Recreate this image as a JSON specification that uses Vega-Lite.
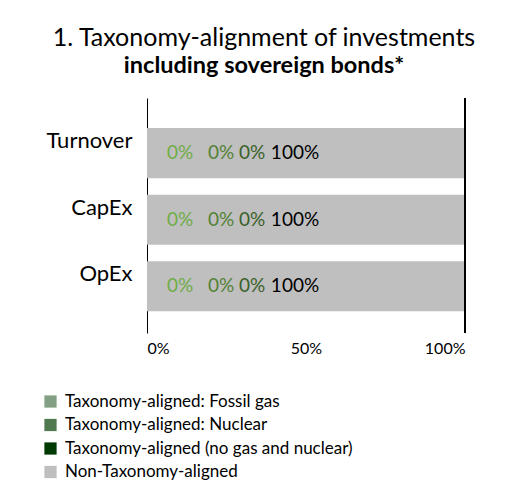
{
  "$schema": "https://vega.github.io/schema/vega-lite/v6.json",
  "width": 318,
  "height": 235,
  "background": "white",
  "padding": {"left": 42, "top": 26, "right": 5, "bottom": 5},
  "title": {
    "text": "1. Taxonomy-alignment of investments",
    "subtitle": "including sovereign bonds*",
    "font": "Lato",
    "subtitleFont": "Lato",
    "fontSize": 25,
    "subtitleFontSize": 23.5,
    "fontWeight": "normal",
    "subtitleFontWeight": "bold",
    "color": "black",
    "subtitleColor": "black",
    "anchor": "middle",
    "dx": -42,
    "subtitlePadding": 3,
    "offset": 20
  },
  "data": {
    "values": [
      {"metric": "Turnover", "category": "Taxonomy-aligned: Fossil gas", "value": 0},
      {"metric": "Turnover", "category": "Taxonomy-aligned: Nuclear", "value": 0},
      {"metric": "Turnover", "category": "Taxonomy-aligned (no gas and nuclear)", "value": 0},
      {"metric": "Turnover", "category": "Non-Taxonomy-aligned", "value": 1},
      {"metric": "CapEx", "category": "Taxonomy-aligned: Fossil gas", "value": 0},
      {"metric": "CapEx", "category": "Taxonomy-aligned: Nuclear", "value": 0},
      {"metric": "CapEx", "category": "Taxonomy-aligned (no gas and nuclear)", "value": 0},
      {"metric": "CapEx", "category": "Non-Taxonomy-aligned", "value": 1},
      {"metric": "OpEx", "category": "Taxonomy-aligned: Fossil gas", "value": 0},
      {"metric": "OpEx", "category": "Taxonomy-aligned: Nuclear", "value": 0},
      {"metric": "OpEx", "category": "Taxonomy-aligned (no gas and nuclear)", "value": 0},
      {"metric": "OpEx", "category": "Non-Taxonomy-aligned", "value": 1}
    ]
  },
  "layer": [
    {
      "mark": {"type": "bar"},
      "encoding": {
        "y": {
          "field": "metric",
          "type": "nominal",
          "sort": ["Turnover", "CapEx", "OpEx"],
          "scale": {"paddingInner": 0.248, "paddingOuter": 0.39, "align": 0.58},
          "axis": {
            "title": null,
            "labelFont": "Lato",
            "labelFontSize": 22,
            "labelColor": "black",
            "labelPadding": 15,
            "labelOffset": -12,
            "ticks": false,
            "domain": true,
            "domainColor": "black",
            "domainWidth": 1,
            "grid": false
          }
        },
        "x": {
          "field": "value",
          "type": "quantitative",
          "stack": "zero",
          "scale": {"domain": [0, 1], "nice": false},
          "axis": {
            "title": null,
            "values": [0, 0.5, 1],
            "format": ".0%",
            "labelFont": "Lato",
            "labelFontSize": 16,
            "labelColor": "black",
            "labelPadding": 7,
            "domain": false,
            "ticks": false,
            "grid": false
          }
        },
        "color": {
          "field": "category",
          "type": "nominal",
          "sort": ["Taxonomy-aligned: Fossil gas", "Taxonomy-aligned: Nuclear", "Taxonomy-aligned (no gas and nuclear)", "Non-Taxonomy-aligned"],
          "scale": {
            "domain": ["Taxonomy-aligned: Fossil gas", "Taxonomy-aligned: Nuclear", "Taxonomy-aligned (no gas and nuclear)", "Non-Taxonomy-aligned"],
            "range": ["#84A084", "#4F7A50", "#013A02", "#BFBFBF"]
          },
          "legend": {
            "title": null,
            "orient": "none",
            "legendX": -105,
            "legendY": 295,
            "direction": "vertical",
            "symbolType": "square",
            "symbolSize": 150,
            "symbolStrokeWidth": 0,
            "labelFont": "Lato",
            "labelFontSize": 17,
            "labelColor": "black",
            "labelLimit": 400,
            "rowPadding": 5.5,
            "labelOffset": 6
          }
        }
      }
    },
    {
      "mark": {"type": "rule", "color": "black", "strokeWidth": 1},
      "encoding": {"x": {"datum": 1}}
    },
    {
      "transform": [{"filter": "datum.category === 'Taxonomy-aligned: Fossil gas'"}],
      "mark": {"type": "text", "font": "Lato", "fontSize": 19, "color": "#70AD47", "align": "center", "baseline": "middle", "dx": 33},
      "encoding": {
        "y": {"field": "metric", "type": "nominal", "sort": ["Turnover", "CapEx", "OpEx"]},
        "x": {"field": "value", "type": "quantitative"},
        "text": {"field": "value", "format": ".0%"}
      }
    },
    {
      "transform": [{"filter": "datum.category === 'Taxonomy-aligned: Nuclear'"}],
      "mark": {"type": "text", "font": "Lato", "fontSize": 19, "color": "#548235", "align": "center", "baseline": "middle", "dx": 74},
      "encoding": {
        "y": {"field": "metric", "type": "nominal", "sort": ["Turnover", "CapEx", "OpEx"]},
        "x": {"field": "value", "type": "quantitative"},
        "text": {"field": "value", "format": ".0%"}
      }
    },
    {
      "transform": [{"filter": "datum.category === 'Taxonomy-aligned (no gas and nuclear)'"}],
      "mark": {"type": "text", "font": "Lato", "fontSize": 19, "color": "#3B5F2A", "align": "center", "baseline": "middle", "dx": 105},
      "encoding": {
        "y": {"field": "metric", "type": "nominal", "sort": ["Turnover", "CapEx", "OpEx"]},
        "x": {"field": "value", "type": "quantitative"},
        "text": {"field": "value", "format": ".0%"}
      }
    },
    {
      "transform": [{"filter": "datum.category === 'Non-Taxonomy-aligned'"}],
      "mark": {"type": "text", "font": "Lato", "fontSize": 19, "color": "black", "align": "center", "baseline": "middle", "dx": -170},
      "encoding": {
        "y": {"field": "metric", "type": "nominal", "sort": ["Turnover", "CapEx", "OpEx"]},
        "x": {"field": "value", "type": "quantitative"},
        "text": {"field": "value", "format": ".0%"}
      }
    }
  ],
  "config": {"view": {"stroke": null}}
}
